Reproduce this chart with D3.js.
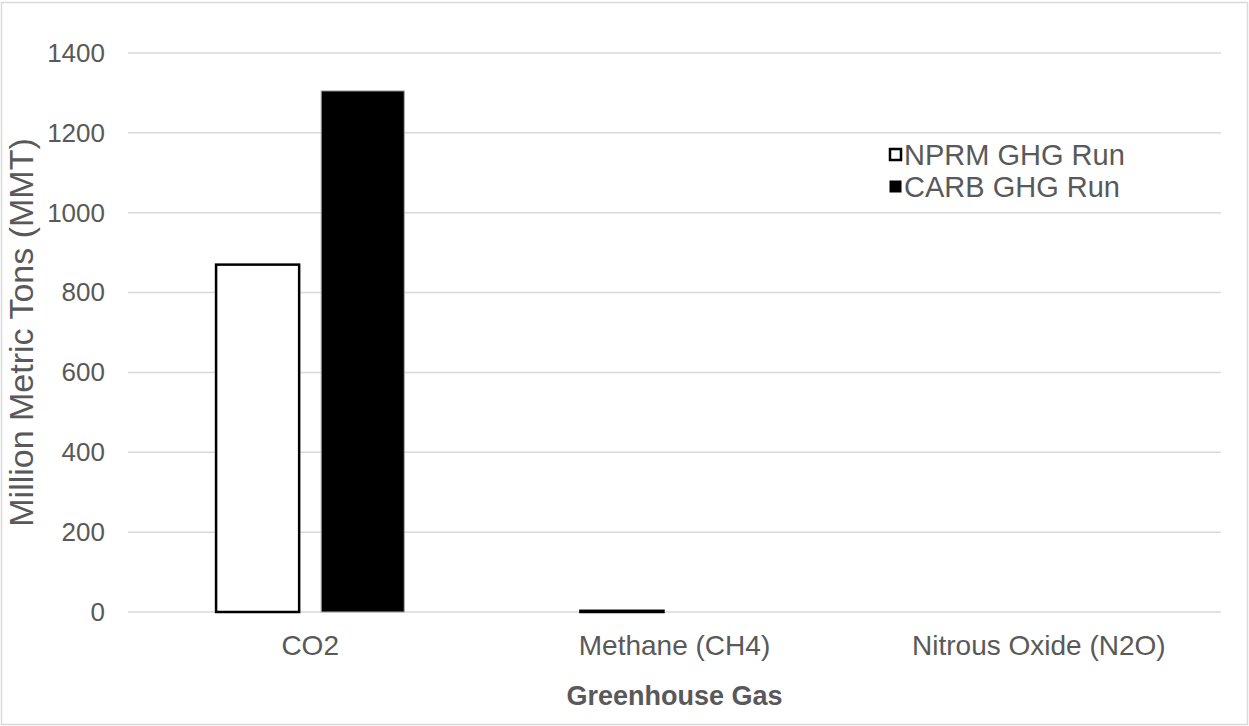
<!DOCTYPE html>
<html>
<head>
<meta charset="utf-8">
<script src="https://cdn.jsdelivr.net/npm/d3@7"></script>
<style>
  html, body { margin: 0; padding: 0; background: #fff; }
  svg { display: block; font-family: "Liberation Sans", Arial, sans-serif; }
</style>
</head>
<body>
<svg id="chart" width="1249" height="726"></svg>
<script>
const categories = ["CO2", "Methane (CH4)", "Nitrous Oxide (N2O)"];
const seriesNames = ["NPRM GHG Run", "CARB GHG Run"];
const nprmValues = [870, 3, 0];
const carbValues = [1305, 0, 0];
const yTicks = [0, 200, 400, 600, 800, 1000, 1200, 1400];
const yTitle = "Million Metric Tons (MMT)";
const xTitle = "Greenhouse Gas";

const W = 1249, H = 726;
const margin = { left: 128, right: 28, top: 53, bottom: 114 };
const svg = d3.select("#chart");

svg.append("rect")
  .attr("x", 1.5).attr("y", 2.5)
  .attr("width", W - 3).attr("height", H - 4)
  .attr("fill", "#fff").attr("stroke", "#d9d9d9").attr("stroke-width", 1.5);

const x0 = d3.scaleBand().domain(categories)
  .range([margin.left, W - margin.right]).padding(0);
const x1 = d3.scaleBand().domain(seriesNames)
  .range([0, x0.bandwidth()])
  .paddingInner(22 / 105).paddingOuter(0.838);
const y = d3.scaleLinear().domain([0, 1400]).range([H - margin.bottom, margin.top]);

// gridlines
const grid = svg.append("g");
grid.selectAll("line").data(yTicks).join("line")
  .attr("x1", margin.left).attr("x2", W - margin.right)
  .attr("y1", d => y(d)).attr("y2", d => y(d))
  .attr("stroke", "#d9d9d9").attr("stroke-width", 1.5);

// y tick labels
const yAxis = d3.axisLeft(y).tickValues(yTicks).tickFormat(d3.format("d")).tickSize(0).tickPadding(23);
const ya = svg.append("g").attr("transform", `translate(${margin.left},0)`).call(yAxis);
ya.select(".domain").remove();
ya.selectAll("text").attr("fill", "#595959").attr("font-size", 26)
  .attr("font-family", "Liberation Sans, Arial, sans-serif");

// x labels
const xAxis = d3.axisBottom(x0).tickSize(0).tickPadding(23);
const xa = svg.append("g").attr("transform", `translate(0,${y(0)})`).call(xAxis);
xa.select(".domain").remove();
xa.selectAll("text").attr("fill", "#595959").attr("font-size", 28)
  .attr("font-family", "Liberation Sans, Arial, sans-serif");

// bars
const data = categories.map((c, i) => ({ cat: c, vals: [nprmValues[i], carbValues[i]] }));
const groups = svg.append("g").selectAll("g").data(data).join("g")
  .attr("transform", d => `translate(${x0(d.cat)},0)`);

groups.selectAll("rect").data(d => d.vals.map((v, j) => ({ s: seriesNames[j], v })))
  .join("rect")
  .filter(d => d.v > 0)
  .attr("x", d => x1(d.s))
  .attr("width", x1.bandwidth())
  .attr("y", d => y(d.v))
  .attr("height", d => y(0) - y(d.v))
  .attr("fill", d => d.s === seriesNames[0] ? "#ffffff" : "#000000")
  .attr("stroke", d => d.s === seriesNames[0] ? "#000000" : "#a6a6a6")
  .attr("stroke-width", d => d.s === seriesNames[0] ? 2.5 : 1);

// legend
const legend = svg.append("g").attr("transform", "translate(889,148)");
seriesNames.forEach((s, i) => {
  const g = legend.append("g").attr("transform", `translate(0,${i * 32})`);
  g.append("rect").attr("x", 1).attr("y", 1).attr("width", 11).attr("height", 11)
    .attr("fill", i === 0 ? "#fff" : "#000")
    .attr("stroke", "#000").attr("stroke-width", i === 0 ? 2.5 : 1);
  g.append("text").attr("x", 15).attr("y", 17)
    .attr("fill", "#595959").attr("font-size", 29).text(s);
});

// axis titles
svg.append("text")
  .attr("transform", `translate(33,${(y(0) + y(1400)) / 2}) rotate(-90)`)
  .attr("text-anchor", "middle").attr("fill", "#595959").attr("font-size", 34)
  .text(yTitle);

svg.append("text")
  .attr("x", (margin.left + W - margin.right) / 2).attr("y", 705)
  .attr("text-anchor", "middle").attr("fill", "#595959")
  .attr("font-size", 27).attr("font-weight", "bold")
  .text(xTitle);
</script>
</body>
</html>
